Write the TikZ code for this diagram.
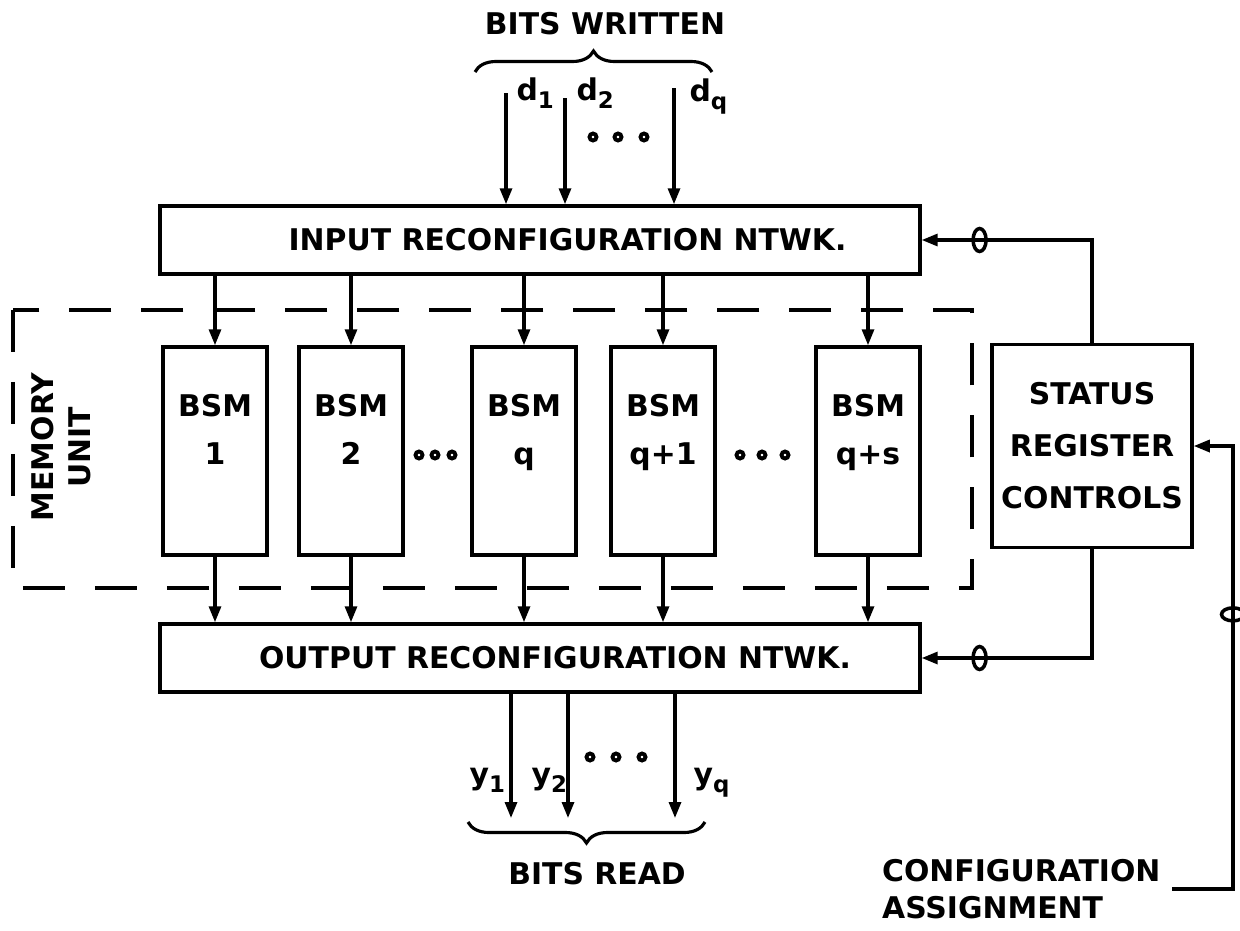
\documentclass[tikz,border=0pt]{standalone}
\usepackage{fontspec}
\setmainfont{DejaVu Sans}
\usepackage{tikz}
\usetikzlibrary{arrows.meta, positioning, shapes.geometric}
\usetikzlibrary{decorations.pathreplacing}

\newcommand{\dgfont}{\fontsize{17}{21}\selectfont\bfseries}
\newcommand{\dgsub}[1]{\raisebox{-0.28em}{\fontsize{13}{13}\selectfont #1}}

\begin{document}
\begin{tikzpicture}[x=0.02cm, y=-0.02cm, line width=1.8pt,
    every node/.style={font=\dgfont},
    box/.style={rectangle, draw, line width=2pt, inner sep=0pt},
    ntwk/.style={box, minimum width=15.2cm, minimum height=1.36cm},
    bsm/.style={box, minimum width=2.08cm, minimum height=4.16cm},
    tag/.style={align=center, inner sep=0pt},
    arr/.style={-{Triangle[length=0.32cm, width=0.24cm]}},
    bundle/.style={ellipse, draw, line width=2pt, minimum width=0.26cm, minimum height=0.46cm, inner sep=0pt},
    brc/.style={decorate, decoration={brace, amplitude=0.42cm}}]
    \fill[white] (0,0) rectangle (1240,930);
    \useasboundingbox (0,0) rectangle (1240,930);

    % networks and status
    \node[ntwk] (inbox) at (540,240) {\hspace{1.1cm}INPUT RECONFIGURATION NTWK.};
    \node[ntwk] (outbox) at (540,658) {\hspace{0.6cm}OUTPUT RECONFIGURATION NTWK.};
    \node[box, minimum width=4cm, minimum height=4.06cm, align=center] (st) at (1092,446)
        {STATUS\\[0.3cm]REGISTER\\[0.3cm]CONTROLS};

    % memory unit
    \draw[line width=2pt, dash pattern=on 0.84cm off 0.6cm] (13,310) rectangle (972,588);
    \node[tag, rotate=90] (mem) at (61,447) {MEMORY\\UNIT};

    \node[bsm] (b1) at (215,451) {};
    \node[bsm] (b2) at (351,451) {};
    \node[bsm] (bq) at (524,451) {};
    \node[bsm] (bq1) at (663,451) {};
    \node[bsm] (bqs) at (868,451) {};
    \node[tag, anchor=north] (b1t) at (215,393) {BSM\\[0.22cm]1};
    \node[tag, anchor=north] (b2t) at (351,393) {BSM\\[0.22cm]2};
    \node[tag, anchor=north] (bqt) at (524,393) {BSM\\[0.22cm]q};
    \node[tag, anchor=north] (bq1t) at (663,393) {BSM\\[0.22cm]q+1};
    \node[tag, anchor=north] (bqst) at (868,393) {BSM\\[0.22cm]q+s};

    \foreach \b in {b1,b2,bq,bq1,bqs} {
        \draw[arr] (\b |- inbox.south) -- (\b.north);
        \draw[arr] (\b.south) -- (\b |- outbox.north);
    }

    % dots
    \foreach \x in {593,618,644} \draw[line width=2.2pt] (\x,137) circle[radius=0.07cm];
    \foreach \x in {590,616,642} \draw[line width=2.2pt] (\x,757) circle[radius=0.07cm];
    \foreach \x in {419,435,452} \draw[line width=2.2pt] (\x,455) circle[radius=0.07cm];
    \foreach \x in {740,762,785} \draw[line width=2.2pt] (\x,455) circle[radius=0.07cm];

    % bits written
    \node[tag] (bw) at (605,24) {BITS WRITTEN};
    \coordinate (bwl) at (475,72);
    \coordinate (bwr) at (712,72);
    \draw[brc] (bwl) -- (bwr);
    \coordinate (d1) at (506,93);
    \coordinate (d2) at (565,98);
    \coordinate (dq) at (674,88);
    \draw[arr] (d1) -- (d1 |- inbox.north);
    \draw[arr] (d2) -- (d2 |- inbox.north);
    \draw[arr] (dq) -- (dq |- inbox.north);
    \node[tag, anchor=base west] (d1l) at (515,100) {d\dgsub{1}};
    \node[tag, anchor=base west] (d2l) at (575,100) {d\dgsub{2}};
    \node[tag, anchor=base west] (dql) at (688,101) {d\dgsub{q}};

    % bits read
    \coordinate (y1) at (511,818);
    \coordinate (y2) at (568,818);
    \coordinate (yq) at (675,818);
    \draw[arr] (y1 |- outbox.south) -- (y1);
    \draw[arr] (y2 |- outbox.south) -- (y2);
    \draw[arr] (yq |- outbox.south) -- (yq);
    \node[tag, anchor=base west] (y1l) at (468,784) {y\dgsub{1}};
    \node[tag, anchor=base west] (y2l) at (530,784) {y\dgsub{2}};
    \node[tag, anchor=base west] (yql) at (692,784) {y\dgsub{q}};
    \coordinate (brl) at (468,822);
    \coordinate (brr) at (705,822);
    \draw[brc] (brr) -- (brl);
    \node[tag] (br) at (597,874) {BITS READ};

    % control lines
    \draw[arr] (st.north) |- node[bundle, pos=0.83] (m1) {} (inbox.east);
    \draw[arr] (st.south) |- node[bundle, pos=0.83] (m2) {} (outbox.east);
    \node[tag, align=left, anchor=east, inner xsep=0.2cm] (cfg) at (1172,889) {CONFIGURATION\\ASSIGNMENT};
    \coordinate (cfgc) at (1233,889);
    \draw[arr] (cfg.east) -- (cfgc) |- node[bundle, rotate=90, pos=0.31] (m3) {} (st.east);
\end{tikzpicture}
\end{document}
